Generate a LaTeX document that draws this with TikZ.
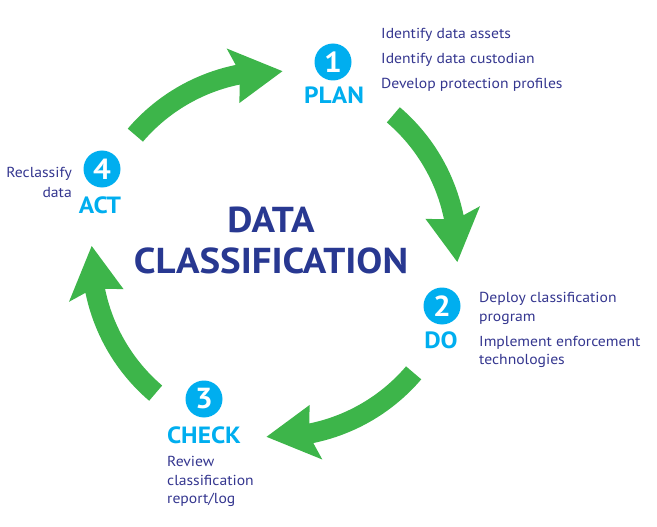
\documentclass[tikz,border=0pt]{standalone}
\usepackage{fontspec}
\setmainfont[FakeStretch=1.08]{PT Sans}
\definecolor{agreen}{HTML}{3DB54A}
\definecolor{cyanc}{HTML}{00AEEF}
\definecolor{navy}{HTML}{283891}
\definecolor{desctext}{HTML}{34368F}
\begin{document}
\begin{tikzpicture}[x=1pt,y=1pt,
  desc/.style={text=desctext, font=\fontsize{14.5}{16}\selectfont, inner sep=0pt, anchor=base west},
  descr/.style={desc, anchor=base east},
  head/.style={text=cyanc, font=\bfseries\fontsize{23.5}{24}\selectfont, inner sep=0pt, anchor=base},
  numc/.style={circle, fill=cyanc, minimum size=37pt, inner sep=0pt, text=white, font=\bfseries\fontsize{29}{30}\selectfont},
  title/.style={text=navy, font=\bfseries\fontsize{36}{36}\selectfont, anchor=base, inner sep=0pt}]
\useasboundingbox (0,0) rectangle (657,-527);
\coordinate (c) at (274.5,-254);
\foreach \a in {139.5,49.5,-40.5,-130.5}{
  \fill[agreen, shift={(c)}] (\a:173pt) arc[start angle=\a, end angle=\a-37.9, radius=173pt]
    -- ({\a-36.4}:155pt) -- ({\a-52}:183pt) -- ({\a-36.4}:211pt) -- ({\a-37.9}:193pt)
    arc[start angle=\a-37.9, end angle=\a, radius=193pt] -- cycle;
}
% title
\node[title] (t1) at (271,-232) {DATA};
\node[title] (t2) at (271,-273) {CLASSIFICATION};
% step 1
\node[numc] (n1) at (333,-62) {1};
\node[head] (h1) at (334,-103) {PLAN};
\node[desc] (d11) at (381,-39) {Identify data assets};
\node[desc] (d12) at (381,-64) {Identify data custodian};
\node[desc] (d13) at (381,-89) {Develop protection profiles};
% step 2
\node[numc] (n2) at (442,-306) {2};
\node[head] (h2) at (441,-348) {DO};
\node[desc] (d21) at (479,-302) {Deploy classification};
\node[desc] (d22) at (479,-321) {program};
\node[desc] (d23) at (479,-346) {Implement enforcement};
\node[desc] (d24) at (479,-364) {technologies};
% step 3
\node[numc] (n3) at (204,-399) {3};
\node[head] (h3) at (204,-443) {CHECK};
\node[desc] (d31) at (167,-466) {Review};
\node[desc] (d32) at (167,-485) {classification};
\node[desc] (d33) at (167,-503) {report/log};
% step 4
\node[numc] (n4) at (102,-169) {4};
\node[head] (h4) at (100,-213) {ACT};
\node[descr] (d41) at (72,-178) {Reclassify};
\node[descr] (d42) at (72,-197) {data};
\end{tikzpicture}
\end{document}
